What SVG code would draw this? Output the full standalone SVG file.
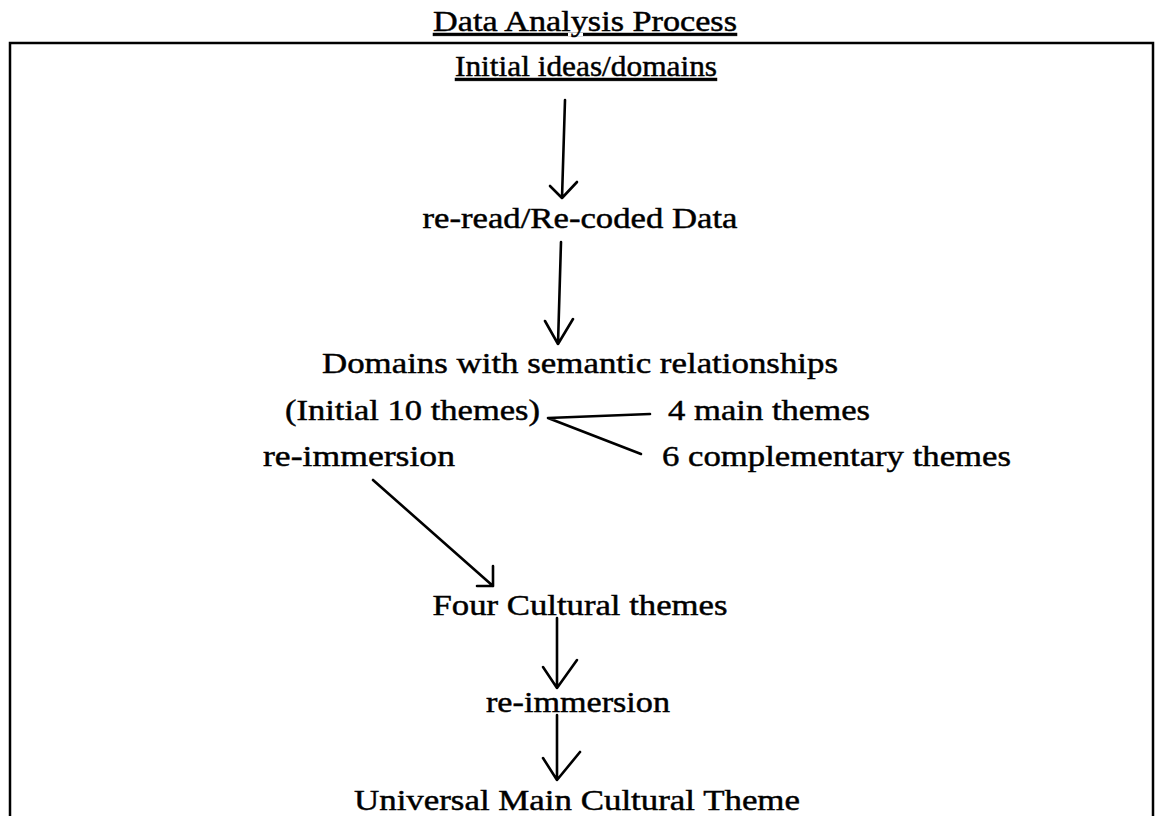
<svg xmlns="http://www.w3.org/2000/svg" width="1155" height="816" viewBox="0 0 1155 816">
  <style>
    text { font-family: "Liberation Serif", "Times New Roman", serif; font-size: 29px; fill: #000; stroke: #000; stroke-width: 0.45; }
    .c { text-anchor: middle; }
    .u { text-decoration: underline; }
    .ln { stroke: #000; stroke-width: 2.6; fill: none; stroke-linecap: round; stroke-linejoin: round; }
    .frame { stroke: #000; stroke-width: 2.5; fill: none; }
  </style>
  <rect width="1155" height="816" fill="#fff"/>
  <g id="title">
    <text class="c u" x="585" y="31" textLength="304" lengthAdjust="spacingAndGlyphs">Data Analysis Process</text>
  </g>
  <path id="frame" class="frame" d="M10,816 V43 H1153 V816"/>
  <g id="node-initial">
    <text class="c u" x="586" y="76" textLength="262" lengthAdjust="spacingAndGlyphs">Initial ideas/domains</text>
  </g>
  <g id="node-reread">
    <text class="c" x="580" y="228" textLength="315" lengthAdjust="spacingAndGlyphs">re-read/Re-coded Data</text>
  </g>
  <g id="node-domains">
    <text class="c" x="580" y="373" textLength="516" lengthAdjust="spacingAndGlyphs">Domains with semantic relationships</text>
  </g>
  <g id="node-initial10">
    <text x="285" y="420" textLength="255" lengthAdjust="spacingAndGlyphs">(Initial 10 themes)</text>
  </g>
  <g id="node-main4">
    <text x="668" y="420" textLength="202" lengthAdjust="spacingAndGlyphs">4 main themes</text>
  </g>
  <g id="node-reimmersion1">
    <text x="263" y="466" textLength="192" lengthAdjust="spacingAndGlyphs">re-immersion</text>
  </g>
  <g id="node-comp6">
    <text x="662" y="466" textLength="349" lengthAdjust="spacingAndGlyphs">6 complementary themes</text>
  </g>
  <g id="node-four">
    <text class="c" x="580" y="615" textLength="295" lengthAdjust="spacingAndGlyphs">Four Cultural themes</text>
  </g>
  <g id="node-reimmersion2">
    <text class="c" x="578" y="712" textLength="184" lengthAdjust="spacingAndGlyphs">re-immersion</text>
  </g>
  <g id="node-universal">
    <text class="c" x="577" y="810" textLength="446" lengthAdjust="spacingAndGlyphs">Universal Main Cultural Theme</text>
  </g>
  <g id="connectors">
    <path class="ln" d="M565,100 L562,198 M550,186 L562,198 L577,182"/>
    <path class="ln" d="M561,242 L558,344 M545,321 L558,344 L573,319"/>
    <path class="ln" d="M650,414 L548,418 L641,454"/>
    <path class="ln" d="M373,480 L493,586 M493,566 L493,586 L477,586"/>
    <path class="ln" d="M557,618 L557,688 M543,667 L557,688 L577,660"/>
    <path class="ln" d="M557,715 L557,780 M543,758 L557,780 L580,752"/>
  </g>
</svg>
